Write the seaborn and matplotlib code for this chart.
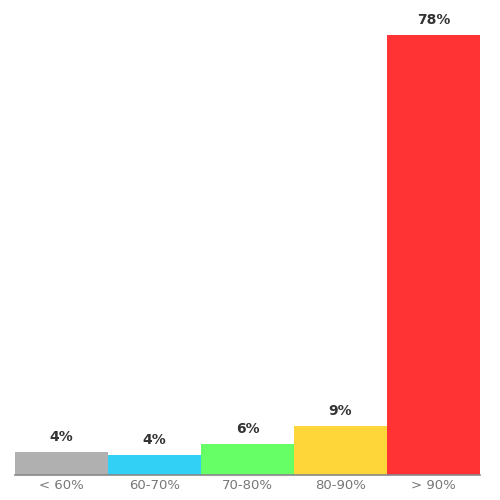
import matplotlib
matplotlib.use('Agg')
import matplotlib.pyplot as plt
import seaborn as sns
import pandas as pd

categories = ['< 60%', '60-70%', '70-80%', '80-90%', '> 90%']
values = [4.1, 3.6, 5.55, 8.7, 78.0]
colors = ['#b0b0b0', '#33d0f5', '#66ff66', '#ffd63a', '#ff3333']

df = pd.DataFrame({'range': categories, 'pct': values})

sns.set_style('white')
fig, ax = plt.subplots(figsize=(5, 5), dpi=100)
fig.subplots_adjust(left=0.03, right=0.96, bottom=0.05, top=0.98)

sns.barplot(data=df, x='range', y='pct', hue='range', palette=colors,
            width=1.0, legend=False, ax=ax, saturation=1, linewidth=0)

for i, v in enumerate(values):
    ax.text(i, v + 1.4, f'{v:.0f}%', ha='center', va='bottom',
            fontsize=10, fontweight='bold', color='#333333')

ax.set_ylim(0, 82.4)
ax.set_xlim(-0.5, 4.5)
ax.set_xlabel('')
ax.set_ylabel('')
ax.set_yticks([])
ax.tick_params(axis='x', length=0, labelsize=9.5, labelcolor='#777777', pad=3)
for s in ['top', 'right', 'left']:
    ax.spines[s].set_visible(False)
ax.spines['bottom'].set_color('#888888')
ax.spines['bottom'].set_linewidth(1.2)

plt.savefig('out.png', dpi=100)
